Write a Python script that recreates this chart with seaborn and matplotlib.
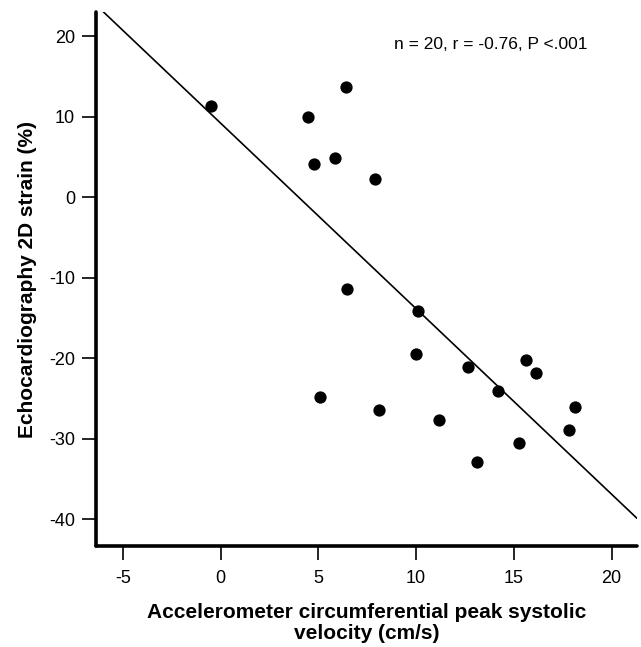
import matplotlib
matplotlib.use("Agg")
import matplotlib.pyplot as plt
import seaborn as sns
import pandas as pd

# Data
velocity = [-0.49, 4.46, 4.77, 5.85, 6.41, 7.90, 6.46, 10.10, 10.00, 5.08,
            8.10, 12.67, 14.20, 11.18, 13.10, 15.60, 16.15, 15.28, 17.80, 18.15]
strain = [11.3, 10.0, 4.1, 4.84, 13.66, 2.24, -11.4, -14.2, -19.5, -24.8,
          -26.5, -21.1, -24.1, -27.7, -32.9, -20.2, -21.9, -30.6, -28.9, -26.1]
x_ticks = [-5, 0, 5, 10, 15, 20]
y_ticks = [20, 10, 0, -10, -20, -30, -40]
annotation = "n = 20, r = -0.76, P <.001"
x_label = "Accelerometer circumferential peak systolic\nvelocity (cm/s)"
y_label = "Echocardiography 2D strain (%)"

df = pd.DataFrame({"velocity": velocity, "strain": strain})

sns.set_style("ticks")
plt.rcParams["font.family"] = ["Liberation Sans", "DejaVu Sans"]
plt.rcParams["axes.unicode_minus"] = False
plt.rcParams["text.color"] = "black"
plt.rcParams["axes.labelcolor"] = "black"
plt.rcParams["xtick.color"] = "black"
plt.rcParams["ytick.color"] = "black"

fig = plt.figure(figsize=(6.41, 6.47), dpi=100)
ax = fig.add_axes([0.1498, 0.156, 0.844, 0.8255])
ax.set_xlim(-6.38, 21.3)
ax.set_ylim(-43.35, 23.0)

sns.regplot(data=df, x="velocity", y="strain", ax=ax, ci=None, truncate=False,
            scatter_kws=dict(s=78, color="black", edgecolor="black", linewidths=0,
                             alpha=1, zorder=3),
            line_kws=dict(color="black", linewidth=1.2))
ax.set_xlim(-6.38, 21.3)
ax.set_ylim(-43.35, 23.0)

ax.set_xticks(x_ticks)
ax.set_yticks(y_ticks)
ax.tick_params(axis="both", direction="out", length=10, width=1.2, color="black",
               labelsize=13, labelcolor="black")
ax.tick_params(axis="x", pad=7)
ax.tick_params(axis="y", pad=5)

sns.despine(ax=ax)
for s in ("left", "bottom"):
    ax.spines[s].set_linewidth(2.6)
    ax.spines[s].set_color("black")
    ax.spines[s].set_capstyle("round")

ax.set_xlabel(x_label, fontsize=15, fontweight="bold", labelpad=12, linespacing=1.1)
ax.set_ylabel(y_label, fontsize=15, fontweight="bold", labelpad=9)

ax.text(0.73, 0.94, annotation, transform=ax.transAxes, ha="center", va="center",
        fontsize=12.5)

fig.savefig("out.png", dpi=100)
